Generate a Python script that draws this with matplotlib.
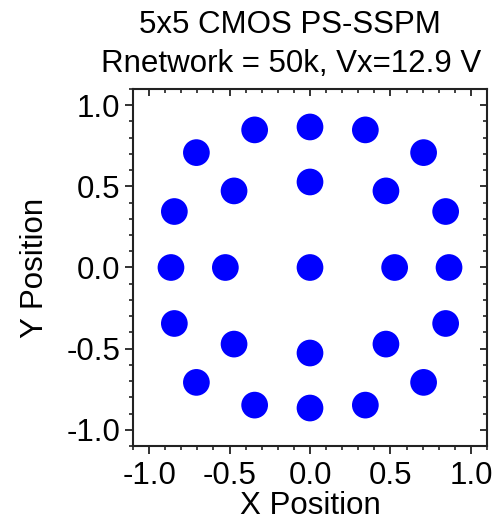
import numpy as np
import matplotlib.pyplot as plt
from matplotlib.ticker import MultipleLocator, NullFormatter

plt.rcParams['font.family'] = ['Liberation Sans', 'DejaVu Sans']

# sensor positions (25 points: centre, inner ring, outer ring)
x_pos = [0.0,
         0.0, 0.472, 0.526, 0.472, 0.0, -0.472, -0.526, -0.472,
         0.0, 0.344, 0.706, 0.843, 0.864, 0.843, 0.706, 0.344,
         0.0, -0.344, -0.706, -0.843, -0.864, -0.843, -0.706, -0.344]
y_pos = [0.0,
         0.527, 0.472, 0.0, -0.472, -0.527, -0.472, 0.0, 0.472,
         0.866, 0.848, 0.708, 0.345, 0.0, -0.345, -0.708, -0.848,
         -0.866, -0.848, -0.708, -0.345, 0.0, 0.345, 0.708, 0.848]

title_lines = ["5x5 CMOS PS-SSPM", "Rnetwork = 50k, Vx=12.9 V"]
xlabel = "X Position"
ylabel = "Y Position"
ticks = [-1.0, -0.5, 0.0, 0.5, 1.0]

fs = 22.5

fig = plt.figure(figsize=(4.96, 5.23), dpi=100)
ax = fig.add_axes([133/496, 1-446/523, (487-133)/496, (446-89)/523])

ax.scatter(x_pos, y_pos, s=370, color='#0000ff', edgecolors='none', zorder=3)

ax.set_xlim(-1.1, 1.1)
ax.set_ylim(-1.1, 1.1)
ax.set_xticks(ticks)
ax.set_yticks(ticks)
ax.set_xticklabels([f"{t:.1f}" for t in ticks])
ax.set_yticklabels([f"{t:.1f}" for t in ticks])
ax.xaxis.set_minor_locator(MultipleLocator(0.1))
ax.yaxis.set_minor_locator(MultipleLocator(0.1))
ax.tick_params(which='major', direction='out', length=6, width=1.3, labelsize=fs, colors='#222222', labelcolor='black', pad=3)
ax.tick_params(axis='x', which='major', pad=5)
ax.tick_params(which='minor', direction='out', length=3.2, width=1.2, colors='#222222')

# top/right inward ticks without labels
sec_x = ax.secondary_xaxis('top')
sec_y = ax.secondary_yaxis('right')
for sec, axis in [(sec_x, sec_x.xaxis), (sec_y, sec_y.yaxis)]:
    axis.set_major_locator(MultipleLocator(0.5))
    axis.set_minor_locator(MultipleLocator(0.1))
    axis.set_major_formatter(NullFormatter())
    sec.tick_params(which='major', direction='in', length=5, width=1.3, colors='#222222')
    sec.tick_params(which='minor', direction='in', length=3.2, width=1.2, colors='#222222')
    for sp in sec.spines.values():
        sp.set_visible(False)

for sp in ax.spines.values():
    sp.set_linewidth(1.5)
    sp.set_color('#222222')

ax.set_xlabel(xlabel, fontsize=fs, labelpad=0)
ax.set_ylabel(ylabel, fontsize=fs, labelpad=12)

fig.text(290/496, 1-33/523, title_lines[0], ha='center', va='baseline', fontsize=fs)
fig.text(291/496, 1-72/523, title_lines[1], ha='center', va='baseline', fontsize=fs)

fig.savefig("out.png", dpi=100)
